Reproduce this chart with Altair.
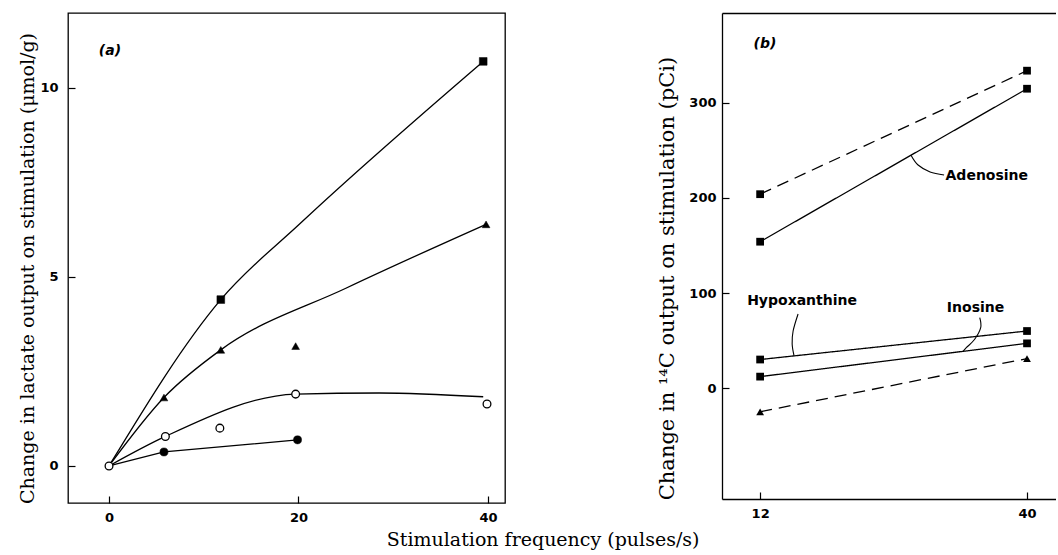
import altair as alt
import pandas as pd

# ---------------- panel (a): lactate output ----------------
a_sq_x = [11.8, 39.5]
a_sq_y = [4.4, 10.7]
a_tri_x = [5.8, 11.8, 19.7, 39.8]
a_tri_y = [1.81, 3.07, 3.17, 6.39]
a_oc_x = [0, 5.95, 11.7, 19.7, 39.9]
a_oc_y = [0, 0.78, 1.0, 1.9, 1.64]
a_fc_x = [5.8, 19.9]
a_fc_y = [0.37, 0.69]

# hand-drawn fitted curves (knots)
a_curve_sq_x = [0, 11.8, 20.2, 39.5]
a_curve_sq_y = [0, 4.4, 6.42, 10.7]
a_curve_tri_x = [0, 5.8, 11.8, 25.0, 39.8]
a_curve_tri_y = [0, 1.81, 3.07, 4.70, 6.39]
a_curve_oc_x = [0, 5.95, 19.7, 28.5, 39.5]
a_curve_oc_y = [0, 0.78, 1.9, 1.93, 1.83]
a_line_fc_x = [0, 5.8, 19.9]
a_line_fc_y = [0, 0.37, 0.69]

a_xticks = [0, 20, 40]
a_yticks = [0, 5, 10]
a_xdomain = [-4.33, 41.8]
a_ydomain = [-0.98, 11.98]

# ---------------- panel (b): 14C output ----------------
b_x = [12, 40]
b_aden_dash = [204, 334]
b_aden_solid = [154, 315]
b_hypo = [30, 60]
b_ino = [12, 47]
b_tri_dash = [-25, 31]

b_xticks = [12, 40]
b_yticks = [0, 100, 200, 300]
b_xdomain = [8.0, 43.04]
b_ydomain = [-116.8, 394.7]

# leader lines from the labels to their lines
lead_aden_x = [27.83, 28.57, 29.83, 31.3]
lead_aden_y = [245.0, 234.7, 227.4, 224.2]
lead_hypo_x = [15.98, 15.46, 15.36, 15.56]
lead_hypo_y = [77.9, 60.0, 46.3, 33.8]
lead_ino_x = [35.04, 35.14, 34.51, 33.63, 33.29]
lead_ino_y = [74.0, 63.5, 51.3, 42.4, 38.6]

b_labels = ["Adenosine", "Hypoxanthine", "Inosine"]
b_label_x = [31.45, 16.4, 34.6]
b_label_y = [223, 91.6, 84]
b_label_align = ["left", "center", "center"]

FONT_TICK = "DejaVu Sans"
FONT_TITLE = "DejaVu Serif"


def pts(xs, ys):
    return pd.DataFrame({"x": xs, "y": ys})


def curves(d):
    rows = []
    for cid, (xs, ys) in d.items():
        for i, (x, y) in enumerate(zip(xs, ys)):
            rows.append({"id": cid, "i": i, "x": x, "y": y})
    return pd.DataFrame(rows)


tick_style = dict(
    labelFont=FONT_TICK, labelFontWeight="bold", labelFontSize=13, labelColor="black",
    tickColor="black", tickWidth=1.2, tickSize=7, offset=-7, domain=False, grid=False,
)
title_style = dict(titleFont=FONT_TITLE, titleFontWeight="normal", titleColor="black")

# ---------- panel (a) ----------
sx_a = alt.Scale(domain=a_xdomain, nice=False, zero=False)
sy_a = alt.Scale(domain=a_ydomain, nice=False, zero=False)

a_curves = curves({
    "sq": (a_curve_sq_x, a_curve_sq_y),
    "tri": (a_curve_tri_x, a_curve_tri_y),
    "oc": (a_curve_oc_x, a_curve_oc_y),
})

a_lines = alt.Chart(a_curves).mark_line(color="black", strokeWidth=1.3, interpolate="monotone").encode(
    x=alt.X("x:Q", scale=sx_a, axis=alt.Axis(values=a_xticks, title=None, labelPadding=8, **tick_style)),
    y=alt.Y("y:Q", scale=sy_a, axis=alt.Axis(
        values=a_yticks, labelPadding=10, title="Change in lactate output on stimulation (μmol/g)",
        titlePadding=2, titleY=255, titleFontSize=19, **title_style, **tick_style)),
    detail="id:N", order="i:Q",
)

a_fc_line = alt.Chart(pts(a_line_fc_x, a_line_fc_y)).mark_line(color="black", strokeWidth=1.3).encode(
    x=alt.X("x:Q", scale=sx_a, axis=None), y=alt.Y("y:Q", scale=sy_a, axis=None)
)


def a_points(xs, ys, shape, filled, size):
    return alt.Chart(pts(xs, ys)).mark_point(
        shape=shape, filled=True, size=size, fill="black" if filled else "white",
        stroke="black", strokeWidth=1.3 if not filled else 0.5, opacity=1,
    ).encode(x=alt.X("x:Q", scale=sx_a, axis=None), y=alt.Y("y:Q", scale=sy_a, axis=None))


a_label = alt.Chart(pd.DataFrame({"x": [0.1], "y": [10.98], "t": ["(a)"]})).mark_text(
    font=FONT_TICK, fontStyle="italic", fontWeight="bold", fontSize=14, color="black"
).encode(x=alt.X("x:Q", scale=sx_a, axis=None), y=alt.Y("y:Q", scale=sy_a, axis=None), text="t:N")

panel_a = alt.layer(
    a_lines,
    a_fc_line,
    a_points(a_sq_x, a_sq_y, "square", True, 60),
    a_points(a_tri_x, a_tri_y, "triangle-up", True, 60),
    a_points(a_fc_x, a_fc_y, "circle", True, 65),
    a_points(a_oc_x, a_oc_y, "circle", False, 60),
    a_label,
).resolve_axis(x="independent", y="independent").properties(width=437, height=490)

# ---------- panel (b) ----------
sx_b = alt.Scale(domain=b_xdomain, nice=False, zero=False)
sy_b = alt.Scale(domain=b_ydomain, nice=False, zero=False)

series = [
    ("aden_dash", b_aden_dash, "dashed", "square"),
    ("aden_solid", b_aden_solid, "solid", "square"),
    ("hypo", b_hypo, "solid", "square"),
    ("ino", b_ino, "solid", "square"),
    ("tri_dash", b_tri_dash, "dashed", "triangle-up"),
]
rows = []
for sid, ys, style, shape in series:
    for x, y in zip(b_x, ys):
        rows.append({"id": sid, "x": x, "y": y, "style": style, "shape": shape})
b_df = pd.DataFrame(rows)

b_lines = alt.Chart(b_df).mark_line(color="black", strokeWidth=1.3).encode(
    x=alt.X("x:Q", scale=sx_b, axis=alt.Axis(values=b_xticks, title=None, labelPadding=8, **tick_style)),
    y=alt.Y("y:Q", scale=sy_b, axis=alt.Axis(
        values=b_yticks, labelPadding=6, title="Change in ¹⁴C output on stimulation (pCi)",
        titlePadding=11, titleY=265, titleFontSize=21, **title_style, **tick_style)),
    detail="id:N",
    strokeDash=alt.StrokeDash("style:N", scale=alt.Scale(domain=["solid", "dashed"], range=[[1, 0], [12, 7]]), legend=None),
)

frame_axis = dict(domain=True, domainColor="black", domainWidth=1.3, ticks=False, labels=False, title=None, grid=False, offset=0)

b_points = alt.Chart(b_df).mark_point(filled=True, size=60, color="black", opacity=1).encode(
    x=alt.X("x:Q", scale=sx_b, axis=alt.Axis(orient="top", **frame_axis)),
    y=alt.Y("y:Q", scale=sy_b, axis=alt.Axis(orient="left", **frame_axis)),
    shape=alt.Shape("shape:N", scale=alt.Scale(domain=["square", "triangle-up"], range=["square", "triangle-up"]), legend=None),
)

leads = curves({
    "aden": (lead_aden_x, lead_aden_y),
    "hypo": (lead_hypo_x, lead_hypo_y),
    "ino": (lead_ino_x, lead_ino_y),
})
b_leads = alt.Chart(leads).mark_line(color="black", strokeWidth=1.1, interpolate="cardinal").encode(
    x=alt.X("x:Q", scale=sx_b, axis=alt.Axis(orient="bottom", **frame_axis)),
    y=alt.Y("y:Q", scale=sy_b, axis=None),
    detail="id:N", order="i:Q",
)

lab_df = pd.DataFrame({"t": b_labels, "x": b_label_x, "y": b_label_y, "a": b_label_align})
b_text_left = alt.Chart(lab_df[lab_df.a == "left"]).mark_text(
    font=FONT_TICK, fontWeight="bold", fontSize=14, color="black", align="left", baseline="middle"
).encode(x=alt.X("x:Q", scale=sx_b, axis=None), y=alt.Y("y:Q", scale=sy_b, axis=None), text="t:N")
b_text_center = alt.Chart(lab_df[lab_df.a == "center"]).mark_text(
    font=FONT_TICK, fontWeight="bold", fontSize=14, color="black", align="center", baseline="middle"
).encode(x=alt.X("x:Q", scale=sx_b, axis=None), y=alt.Y("y:Q", scale=sy_b, axis=None), text="t:N")

b_label = alt.Chart(pd.DataFrame({"x": [12.5], "y": [362], "t": ["(b)"]})).mark_text(
    font=FONT_TICK, fontStyle="italic", fontWeight="bold", fontSize=14, color="black"
).encode(x=alt.X("x:Q", scale=sx_b, axis=None), y=alt.Y("y:Q", scale=sy_b, axis=None), text="t:N")

panel_b = alt.layer(
    b_lines, b_leads, b_points, b_text_left, b_text_center, b_label
).resolve_axis(x="independent", y="independent").properties(
    width=334, height=486, view=alt.ViewBackground(stroke=None)
)

chart = alt.hconcat(panel_a, panel_b, spacing=150).properties(
    padding={"left": 18, "top": 12, "right": 0, "bottom": 2},
    title=alt.TitleParams(
        text="Stimulation frequency (pulses/s)", orient="bottom", anchor="middle",
        font=FONT_TITLE, fontSize=19, fontWeight="normal", color="black", offset=6, dx=6,
    ),
).configure_view(stroke="black", strokeWidth=1.3).configure_axis(grid=False)

chart.save("out.html", embed_options={"renderer": "svg", "actions": False})
